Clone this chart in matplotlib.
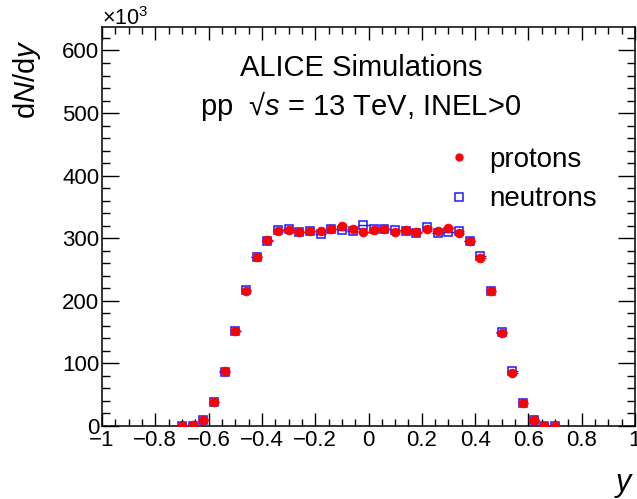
import numpy as np
import matplotlib
matplotlib.use("Agg")
import matplotlib.pyplot as plt
from matplotlib.ticker import MultipleLocator
from matplotlib.lines import Line2D

plt.rcParams['font.family'] = ['Liberation Sans', 'DejaVu Sans']
plt.rcParams['mathtext.fontset'] = 'custom'
plt.rcParams['mathtext.rm'] = 'Liberation Sans'
plt.rcParams['mathtext.it'] = 'Liberation Sans:italic'
plt.rcParams['mathtext.bf'] = 'Liberation Sans:bold'

# rapidity bin centres
rapidity = [-0.70, -0.66, -0.62, -0.58, -0.54, -0.50, -0.46, -0.42, -0.38, -0.34,
            -0.30, -0.26, -0.22, -0.18, -0.14, -0.10, -0.06, -0.02,
            0.02, 0.06, 0.10, 0.14, 0.18, 0.22, 0.26, 0.30, 0.34,
            0.38, 0.42, 0.46, 0.50, 0.54, 0.58, 0.62, 0.66, 0.70]
bin_half_width = 0.02

# dN/dy in units of 10^3
protons = [0.3, 0.8, 9.6, 37.9, 87.9, 151.0, 215.8, 269.7, 296.6, 311.5,
           313.9, 309.3, 311.0, 311.2, 315.0, 320.2, 314.7, 309.2,
           313.9, 314.4, 309.5, 313.9, 310.2, 314.4, 312.3, 316.0, 309.0,
           295.2, 269.2, 215.8, 148.7, 85.3, 36.2, 9.6, 0.6, 0.2]
neutrons = [0.2, 0.6, 10.2, 38.0, 87.0, 151.5, 217.5, 269.7, 296.3, 313.2,
            314.8, 309.2, 311.4, 306.5, 315.0, 312.9, 312.0, 320.5,
            314.4, 314.4, 313.9, 311.0, 307.8, 317.4, 308.5, 309.5, 311.2,
            296.3, 271.2, 216.0, 149.5, 88.0, 37.0, 10.0, 0.6, 0.3]

x_ticks = [-1.0, -0.8, -0.6, -0.4, -0.2, 0.0, 0.2, 0.4, 0.6, 0.8, 1.0]
x_ticklabels = ["\u22121", "\u22120.8", "\u22120.6", "\u22120.4", "\u22120.2",
                "0", "0.2", "0.4", "0.6", "0.8", "1"]
y_ticks = [0, 100, 200, 300, 400, 500, 600]
y_ticklabels = ["0", "100", "200", "300", "400", "500", "600"]

RED = '#ff0000'
BLUE = '#1a1aff'

W, H = 637, 499
fig = plt.figure(figsize=(W / 100, H / 100), dpi=100)
ax = fig.add_axes([102 / W, 73 / H, 533 / W, 399.3 / H])

ax.errorbar(rapidity, neutrons, xerr=bin_half_width, fmt='s', ms=6.2,
            mfc='none', mec=BLUE, mew=1.1, ecolor=BLUE, elinewidth=1.0,
            capsize=0, zorder=3)
ax.errorbar(rapidity, protons, xerr=bin_half_width, fmt='o', ms=6.4,
            mfc=RED, mec=RED, mew=0.5, ecolor=RED, elinewidth=1.0,
            capsize=0, zorder=4)

ax.set_xlim(-1, 1)
ax.set_ylim(0, 638)
ax.set_xticks(x_ticks)
ax.set_xticklabels(x_ticklabels)
ax.set_yticks(y_ticks)
ax.set_yticklabels(y_ticklabels)
ax.xaxis.set_minor_locator(MultipleLocator(0.05))
ax.yaxis.set_minor_locator(MultipleLocator(20))

ax.tick_params(axis='both', which='both', direction='in', top=True, right=True,
               labelsize=16, width=1.0, color='black')
ax.tick_params(axis='x', which='major', length=9.2, pad=3)
ax.tick_params(axis='x', which='minor', length=4.7)
ax.tick_params(axis='y', which='major', length=12, pad=2)
ax.tick_params(axis='y', which='minor', length=5.8)
for s in ax.spines.values():
    s.set_linewidth(1.1)

ax.set_ylabel("d$N$/d$y$", fontsize=21, loc='top')
ax.yaxis.set_label_coords(-59 / 533, 1.0 - 13 / 399.3)
ax.set_xlabel("$y$", fontsize=22, loc='right')
ax.xaxis.set_label_coords(1.0, -44 / 399.3)
ax.xaxis.label.set_va('top')

fig.text(102 / W, 1 - 25 / H, "\u00d710$^{3}$", fontsize=15.5, ha='left', va='baseline')

fig.text(240 / W, 1 - 76 / H, "ALICE Simulations", fontsize=21, ha='left', va='baseline')
fig.text(200 / W, 1 - 115 / H, "pp  \u221a$s$ = 13 TeV, INEL>0", fontsize=21, ha='left', va='baseline')

handles = [Line2D([], [], ls='none', marker='o', ms=5, mfc=RED, mec=RED),
           Line2D([], [], ls='none', marker='s', ms=6, mfc='none', mec=BLUE, mew=1.1)]
labels = ['protons', 'neutrons']
leg = ax.legend(handles, labels, loc='upper left',
                bbox_to_anchor=((445 - 102) / 533, (426 - 147) / 399.3),
                frameon=False, fontsize=20, handlelength=1.0, handletextpad=0.6,
                labelspacing=0.48, borderpad=0, borderaxespad=0)

fig.savefig("out.png", dpi=100)
